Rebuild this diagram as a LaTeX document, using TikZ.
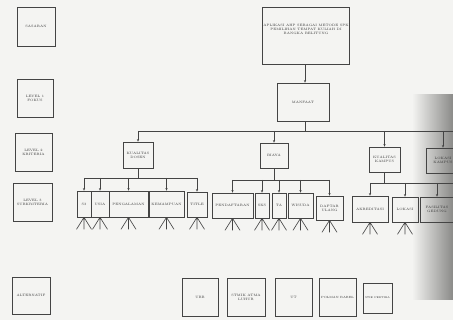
\documentclass[tikz,border=0pt]{standalone}
\usetikzlibrary{arrows.meta}
\definecolor{linec}{HTML}{444444}
\definecolor{txtc}{HTML}{333333}
\definecolor{bgc}{HTML}{F4F4F2}
\definecolor{shadec}{HTML}{8A8A88}
\newcommand\bx[6]{\node[box,minimum width=#4pt,minimum height=#5pt] (#1) at (#2,#3) {#6};}
\begin{document}
\begin{tikzpicture}[x=1pt,y=-1pt,
  box/.style={draw=linec, line width=0.65pt, inner sep=0.5pt, align=center,
              font=\fontsize{3.3}{4}\selectfont, text=txtc},
  arr/.style={draw=linec, line width=0.65pt, -{Stealth[length=2.6pt,width=2.2pt]}},
  ln/.style={draw=linec, line width=0.65pt},
  tri/.style={draw=linec, line width=0.65pt}]
\useasboundingbox (0,0) rectangle (453,320);
\fill[bgc] (0,0) rectangle (453,320);
\shade[left color=bgc, right color=shadec] (412,95) rectangle (453,300);

% level labels
\bx{sas}{36}{26.5}{38}{39}{SASARAN}
\bx{lv1}{35}{98}{36}{38}{LEVEL 1\\FOKUS}
\bx{lv2}{33.5}{152}{37}{38}{LEVEL 2\\KRITERIA}
\bx{lv3}{32.5}{202}{39}{38}{LEVEL 3\\SUBKRITERIA}
\bx{alt}{31}{295.5}{38}{37}{ALTERNATIF}

% goal and focus
\bx{goal}{306}{35.5}{84}{57}{APLIKASI AHP SEBAGAI METODE SPK\\PEMILIHAN TEMPAT KULIAH DI\\BANGKA BELITUNG\\[8pt]}
\bx{manf}{303}{102}{52}{38}{MANFAAT}

% criteria
\bx{kd}{138}{155}{30}{26}{KUALITAS\\DOSEN}
\bx{biaya}{274}{155.5}{28}{25}{BIAYA}
\bx{kk}{384.5}{159.5}{31}{25}{KUALITAS\\KAMPUS}
\bx{k4}{443}{160.5}{34}{25}{LOKASI\\KAMPUS}

% subcriteria
\bx{s3}{84}{204}{14}{26}{S3}
\bx{usia}{100}{204}{18}{26}{USIA}
\bx{peng}{128.5}{204}{39}{26}{PENGALAMAN}
\bx{kem}{166.5}{204}{35}{26}{KEMAMPUAN}
\bx{title}{197}{204.5}{20}{25}{TITLE}

\bx{pend}{232.5}{205.5}{41}{25}{PENDAFTARAN}
\bx{sks}{262}{205.5}{14}{25}{SKS}
\bx{ta}{279}{205.5}{14}{25}{TA}
\bx{wis}{300.5}{205.5}{25}{25}{WISUDA}
\bx{du}{329.5}{208}{27}{24}{DAFTAR\\ULANG}

\bx{akr}{370}{209}{36}{26}{AKREDITASI}
\bx{lok}{405}{209.5}{26}{25}{LOKASI}
\bx{b3}{437}{209.5}{34}{25}{FASILITAS\\GEDUNG}

% alternatives
\bx{ubb}{200}{297}{36}{38}{UBB}
\bx{stmik}{246}{297}{38}{38}{STMIK ATMA\\LUHUR}
\bx{ut}{293.5}{297}{37}{38}{UT}
\bx{polman}{337.5}{297}{37}{38}{{\fontsize{3}{4}\selectfont POLMAN BABEL}}
\bx{pertiba}{377.5}{298}{29}{30}{{\fontsize{2.6}{4}\selectfont STIE PERTIBA}}

% goal -> focus
\draw[arr] ([xshift=-1pt]goal.south) -- ([xshift=2pt]manf.north);

% focus -> criteria
\coordinate (b1) at (453,131);
\draw[ln] ([xshift=2pt]manf.south) -- ([xshift=2pt]manf.south |- b1);
\draw[ln] (kd.north |- b1) -- (b1);
\foreach \n in {kd,biaya,kk,k4} \draw[arr] (\n.north |- b1) -- (\n.north);

% kualitas dosen -> subcriteria
\coordinate (c1) at (0,178);
\draw[ln] (kd.south) -- (kd.south |- c1);
\draw[ln] (s3.north |- c1) -- (title.north |- c1);
\foreach \n in {s3,usia,peng,kem,title} \draw[arr] (\n.north |- c1) -- (\n.north);

% biaya -> subcriteria
\coordinate (c2) at (0,180);
\draw[ln] (biaya.south) -- (biaya.south |- c2);
\draw[ln] (pend.north |- c2) -- (du.north |- c2);
\foreach \n in {pend,sks,ta,wis,du} \draw[arr] (\n.north |- c2) -- (\n.north);

% kualitas kampus -> subcriteria
\coordinate (c3) at (453,183);
\draw[ln] (kk.south) -- (kk.south |- c3);
\draw[ln] (akr.north |- c3) -- (c3);
\foreach \n in {akr,lok,b3} \draw[arr] (\n.north |- c3) -- (\n.north);

% links to alternatives
\foreach \n in {s3,usia,peng,kem,title,pend,sks,ta,wis,du,akr,lok}
  \draw[tri] (\n.south) -- ++(-7.5,12) (\n.south) -- ++(0,12) (\n.south) -- ++(7.5,12);
\end{tikzpicture}
\end{document}
